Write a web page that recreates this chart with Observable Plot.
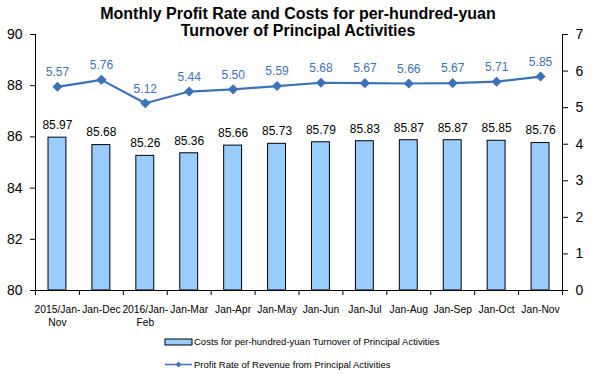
<!DOCTYPE html>
<html>
<head>
<meta charset="utf-8">
<script src="https://cdn.jsdelivr.net/npm/d3@7"></script>
<script src="https://cdn.jsdelivr.net/npm/@observablehq/plot@0.6"></script>
<style>
  html, body { margin: 0; padding: 0; background: #fff; }
  svg { display: block; }
</style>
</head>
<body>
<div id="chart"></div>
<script>
const categories = ["2015/Jan-\nNov", "Jan-Dec", "2016/Jan-\nFeb", "Jan-Mar", "Jan-Apr", "Jan-May",
                    "Jan-Jun", "Jan-Jul", "Jan-Aug", "Jan-Sep", "Jan-Oct", "Jan-Nov"];
const costs = [85.97, 85.68, 85.26, 85.36, 85.66, 85.73, 85.79, 85.83, 85.87, 85.87, 85.85, 85.76];
const profitRate = [5.57, 5.76, 5.12, 5.44, 5.50, 5.59, 5.68, 5.67, 5.66, 5.67, 5.71, 5.85];
const leftTicks = [80, 82, 84, 86, 88, 90];
const rightTicks = [0, 1, 2, 3, 4, 5, 6, 7];
const titleLines = ["Monthly Profit Rate and Costs for per-hundred-yuan", "Turnover of Principal Activities"];
const legendLabels = ["Costs for per-hundred-yuan Turnover of Principal Activities",
                      "Profit Rate of Revenue from Principal Activities"];

const BAR = "#99CCFF";
const BLUE = "#3C72BA";
const FONT = "'Liberation Sans', Arial, sans-serif";

// right axis (0..7) mapped onto left scale (80..90)
const toLeft = v => 80 + v * 10 / 7;
const fromLeft = y => (y - 80) * 7 / 10;

const rows = categories.map((c, i) => ({i, c, cost: costs[i], rate: profitRate[i]}));

const svg = Plot.plot({
  width: 591,
  height: 374,
  marginTop: 34,
  marginBottom: 84,
  marginLeft: 35,
  marginRight: 29,
  style: {fontFamily: FONT, fontSize: "14px", background: "#fff", color: "#000"},
  x: {type: "linear", domain: [0, categories.length]},
  y: {domain: [80, 90]},
  marks: [
    Plot.rectY(rows, {
      x1: d => d.i, x2: d => d.i + 1, y1: () => 80, y2: d => d.cost,
      insetLeft: 13, insetRight: 13, fill: BAR, stroke: "#000", strokeWidth: 1
    }),
    Plot.text(rows, {x: d => d.i + 0.5, y: d => d.cost, text: d => d.cost.toFixed(2), dy: -12.5, fontSize: 12, fill: "#000"}),
    Plot.line(rows, {x: d => d.i + 0.5, y: d => toLeft(d.rate), stroke: BLUE, strokeWidth: 2.2}),
    Plot.dot(rows, {x: d => d.i + 0.5, y: d => toLeft(d.rate), symbol: "diamond2", r: 3.6, fill: BLUE, stroke: BLUE}),
    Plot.text(rows, {x: d => d.i + 0.5, y: d => toLeft(d.rate), text: d => d.rate.toFixed(2), dy: -14.5, fontSize: 12, fill: BLUE}),
    Plot.ruleX([0, categories.length], {stroke: "#000", strokeWidth: 1}),
    Plot.ruleY([80], {stroke: "#000", strokeWidth: 1}),
    Plot.axisY(leftTicks, {anchor: "left", tickSize: 5, tickPadding: 8, fontSize: 14, label: null}),
    Plot.axisY(rightTicks.map(toLeft), {anchor: "right", tickSize: 5, tickPadding: 8, fontSize: 14, label: null,
      tickFormat: d => String(Math.round(fromLeft(d)))}),
    Plot.axisX(d3.range(categories.length + 1), {tickSize: 5, tickFormat: () => "", label: null}),
    Plot.text(rows, {x: d => d.i + 0.5, frameAnchor: "bottom", text: "c", dy: 13, lineAnchor: "top",
      lineHeight: 1.3, fontSize: 10.3, fill: "#000"})
  ]
});

document.getElementById("chart").appendChild(svg);

const s = d3.select(svg);
// Title
s.append("g").selectAll("text").data(titleLines).join("text")
  .attr("x", 298).attr("y", (d, i) => 18.5 + i * 17.5)
  .attr("text-anchor", "middle")
  .attr("font-family", FONT).attr("font-weight", "bold").attr("font-size", 16)
  .attr("fill", "#000")
  .text(d => d);

// Legend
const lg = s.append("g");
lg.append("rect").attr("x", 165).attr("y", 339).attr("width", 27).attr("height", 6)
  .attr("fill", BAR).attr("stroke", "#000").attr("stroke-width", 1);
lg.append("line").attr("x1", 165).attr("x2", 192).attr("y1", 364.5).attr("y2", 364.5)
  .attr("stroke", BLUE).attr("stroke-width", 1.5);
lg.append("path").attr("d", d3.symbol(d3.symbolDiamond2, 22)())
  .attr("transform", "translate(178.5,364.5)").attr("fill", BLUE);
lg.selectAll("text").data(legendLabels).join("text")
  .attr("x", 194).attr("y", (d, i) => 342 + i * 23)
  .attr("dy", "0.35em")
  .attr("text-anchor", "start")
  .attr("font-family", FONT).attr("font-size", 9.5).attr("fill", "#000")
  .text(d => d);
</script>
</body>
</html>
